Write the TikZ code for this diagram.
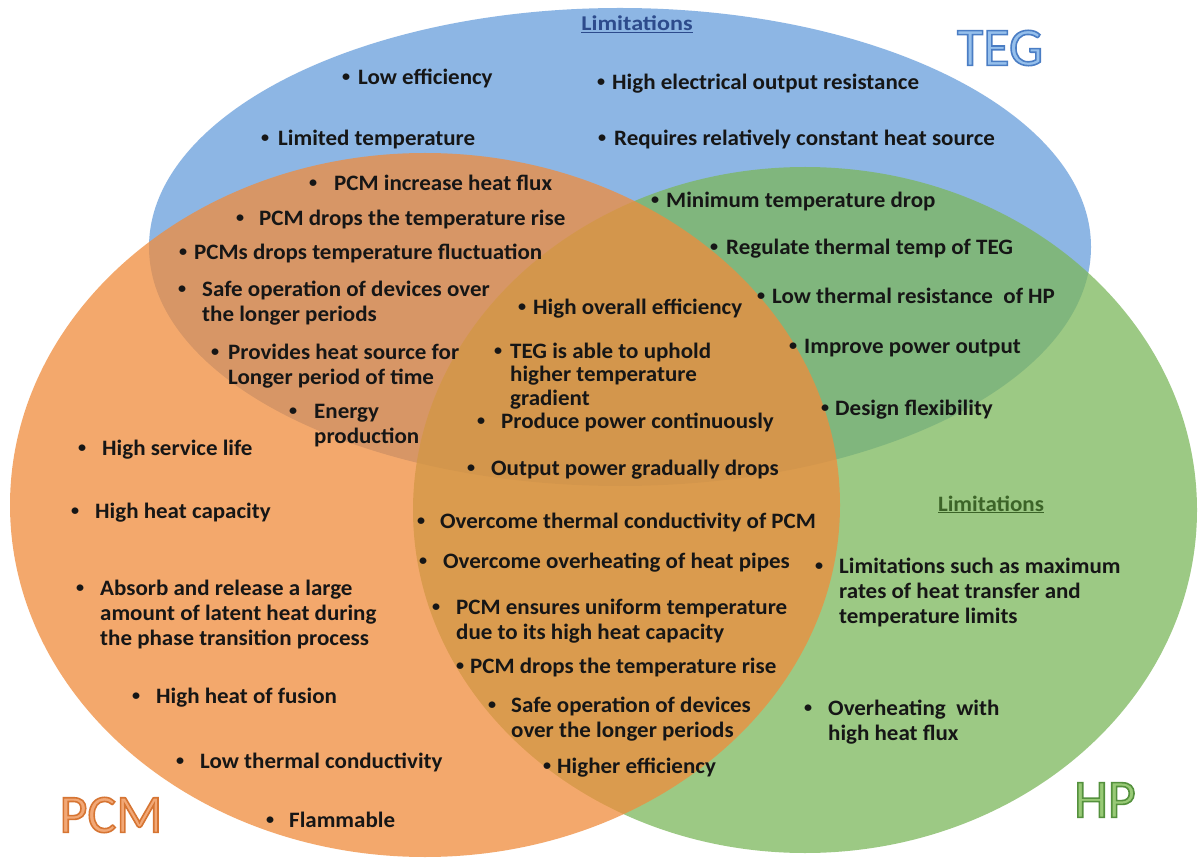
\documentclass[tikz,border=0pt]{standalone}
\usepackage{fontspec}
\newfontfamily\bodyfont[FakeStretch=1.045]{Carlito}
\newfontfamily\titlefont{Carlito}
\definecolor{cblue}{RGB}{104,158,219}
\definecolor{cgreen}{RGB}{124,183,91}
\definecolor{corange}{RGB}{240,140,60}
\definecolor{txt}{RGB}{22,22,22}
\definecolor{limblue}{RGB}{45,75,140}
\definecolor{limgreen}{RGB}{60,100,40}
\definecolor{tegcol}{RGB}{150,192,236}
\definecolor{pcmcol}{RGB}{242,168,118}
\definecolor{hpcol}{RGB}{152,202,118}
\newcommand\outl[2]{\special{pdf:literal direct #1 RG 1.6 w 2 Tr}#2\special{pdf:literal direct 0 Tr}}
\newcommand\bl[1]{\rule{0pt}{16pt}\llap{\makebox[0pt]{\raisebox{2.3pt}{\scalebox{0.7}{\textbullet}}}\hspace{#1pt}}}
\tikzset{
  itm/.style={anchor=north west, yshift=9pt, inner sep=0pt, align=left,
    font=\bodyfont\bfseries\fontsize{22}{25}\selectfont, text=txt},
  setfill/.style={fill=#1, fill opacity=0.75, draw=none},
  ttl/.style={inner sep=0pt, font=\titlefont\fontsize{54}{60}\selectfont},
  limlbl/.style={anchor=base, inner sep=0pt, font=\bodyfont\bfseries\fontsize{22}{25}\selectfont}
}
\begin{document}
\begin{tikzpicture}[x=1pt,y=-1pt]
\useasboundingbox (0,0) rectangle (1199,866);
\fill[white] (0,0) rectangle (1199,866);
% sets
\path[setfill=cblue] (620,247) ellipse [x radius=471pt, y radius=239pt];
\path[setfill=cgreen] (805,510) ellipse [x radius=392pt, y radius=343pt];
\path[setfill=corange] (425,505) ellipse [x radius=415pt, y radius=352pt];
% titles
\node[ttl, text=tegcol] (teg) at (1000,48) {\outl{0.29 0.49 0.77}{TEG}};
\node[ttl, text=pcmcol] (pcm) at (111,815) {\outl{0.84 0.46 0.2}{PCM}};
\node[ttl, text=hpcol] (hp) at (1105,800) {\outl{0.33 0.57 0.24}{HP}};
\node[limlbl, text=limblue] (limteg) at (637,31) {\scalebox{1.1}[1]{\fontsize{21}{25}\selectfont\underline{Limitations}}};
\node[limlbl, text=limgreen] (limhp) at (991,511) {\underline{Limitations}};
% TEG only
\node[itm] (loweff) at (358,77) {\bl{12}Low efficiency};
\node[itm] (highel) at (612,82) {\bl{11}High electrical output resistance};
\node[itm] (limtemp) at (278,138) {\bl{13}Limited temperature};
\node[itm] (reqconst) at (614,138) {\bl{12}Requires relatively constant heat source};
% TEG & PCM
\node[itm] (pcmflux) at (334,183) {\bl{21}PCM increase heat flux};
\node[itm] (pcmrise) at (259,218) {\bl{19}PCM drops the temperature rise};
\node[itm] (pcmfluct) at (194,252) {\bl{11}PCMs drops temperature fluctuation};
\node[itm] (safeop) at (202,289) {\bl{20}Safe operation of devices over\\the longer periods};
\node[itm] (heatsrc) at (228,352) {\bl{13}Provides heat source for\\Longer period of time};
\node[itm] (energy) at (314,411) {\bl{21}Energy\\production};
% TEG & HP
\node[itm] (mindrop) at (666,200) {\bl{11}Minimum temperature drop};
\node[itm] (regtemp) at (726,247) {\bl{12}Regulate thermal temp of TEG};
\node[itm] (lowres) at (772,296) {\bl{11}Low thermal resistance\ \ of HP};
\node[itm] (imppow) at (804,346) {\bl{11}Improve power output};
\node[itm] (design) at (835,408) {\bl{10}Design flexibility};
% all three
\node[itm] (overall) at (533,307) {\bl{11}High overall efficiency};
\node[itm, font=\bodyfont\bfseries\fontsize{22}{23.5}\selectfont] (uphold) at (510,351) {\bl{12}TEG is able to uphold\\higher temperature\\gradient};
\node[itm] (produce) at (501,421) {\bl{20}Produce power continuously};
\node[itm] (outdrop) at (491,468) {\bl{20}Output power gradually drops};
% PCM & HP
\node[itm] (overcond) at (440,521) {\bl{19}Overcome thermal conductivity of PCM};
\node[itm] (overheatp) at (443,561) {\bl{20}Overcome overheating of heat pipes};
\node[itm] (uniform) at (456,607) {\bl{20}PCM ensures uniform temperature\\due to its high heat capacity};
\node[itm] (pcmrise2) at (470,666) {\bl{10}PCM drops the temperature rise};
\node[itm] (safeop2) at (511,705) {\bl{19}Safe operation of devices\\over the longer periods};
\node[itm] (higheff) at (557,766) {\bl{10}Higher efficiency};
% PCM only
\node[itm] (service) at (102,448) {\bl{20}High service life};
\node[itm] (capacity) at (95,511) {\bl{20}High heat capacity};
\node[itm] (absorb) at (100,588) {\bl{20}Absorb and release a large\\amount of latent heat during\\the phase transition process};
\node[itm] (fusion) at (156,696) {\bl{20}High heat of fusion};
\node[itm] (lowcond) at (200,761) {\bl{20}Low thermal conductivity};
\node[itm] (flamm) at (289,820) {\bl{19}Flammable};
% HP only
\node[itm] (limmax) at (839,566) {\bl{20}Limitations such as maximum\\rates of heat transfer and\\temperature limits};
\node[itm] (ovhflux) at (828,708) {\bl{20}Overheating\ \ with\\high heat flux};
\end{tikzpicture}
\end{document}
